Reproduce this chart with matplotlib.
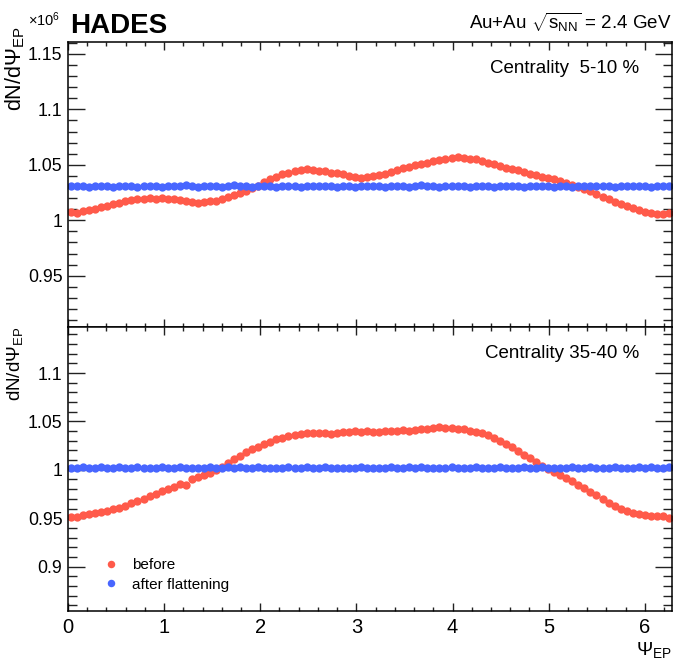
import numpy as np
import matplotlib
matplotlib.use("Agg")
import matplotlib.pyplot as plt
from matplotlib.ticker import MultipleLocator, FuncFormatter

plt.rcParams["font.family"] = ["Liberation Sans", "DejaVu Sans"]
plt.rcParams["mathtext.fontset"] = "custom"
plt.rcParams["mathtext.rm"] = "Liberation Sans"
plt.rcParams["mathtext.it"] = "Liberation Sans:italic"

# 100 bins over [0, 2pi); dN/dPsi in units of 10^6
N_BINS = 100
psi = (np.arange(N_BINS) + 0.5) * 2 * np.pi / N_BINS

before_5_10 = [
    1.0070, 1.0068, 1.0080, 1.0093, 1.0100, 1.0118, 1.0128, 1.0146, 1.0155, 1.0172,
    1.0180, 1.0192, 1.0196, 1.0203, 1.0196, 1.0199, 1.0190, 1.0194, 1.0183, 1.0178,
    1.0168, 1.0160, 1.0165, 1.0170, 1.0178, 1.0195, 1.0207, 1.0228, 1.0246, 1.0268,
    1.0290, 1.0312, 1.0342, 1.0368, 1.0392, 1.0415, 1.0428, 1.0440, 1.0452, 1.0458,
    1.0450, 1.0446, 1.0441, 1.0430, 1.0425, 1.0414, 1.0402, 1.0394, 1.0384, 1.0390,
    1.0396, 1.0408, 1.0420, 1.0438, 1.0452, 1.0470, 1.0484, 1.0498, 1.0506, 1.0520,
    1.0530, 1.0542, 1.0556, 1.0562, 1.0568, 1.0557, 1.0552, 1.0556, 1.0538, 1.0520,
    1.0505, 1.0490, 1.0472, 1.0458, 1.0450, 1.0438, 1.0420, 1.0408, 1.0394, 1.0380,
    1.0368, 1.0352, 1.0340, 1.0322, 1.0304, 1.0285, 1.0262, 1.0238, 1.0214, 1.0190,
    1.0168, 1.0150, 1.0128, 1.0112, 1.0094, 1.0078, 1.0062, 1.0058, 1.0056, 1.0066]

after_5_10 = [
    1.0310, 1.0306, 1.0309, 1.0303, 1.0311, 1.0305, 1.0308, 1.0302, 1.0310, 1.0307,
    1.0313, 1.0304, 1.0309, 1.0306, 1.0312, 1.0303, 1.0308, 1.0310, 1.0305, 1.0314,
    1.0307, 1.0302, 1.0309, 1.0306, 1.0311, 1.0304, 1.0308, 1.0315, 1.0305, 1.0309,
    1.0303, 1.0310, 1.0307, 1.0312, 1.0304, 1.0308, 1.0306, 1.0311, 1.0302, 1.0309,
    1.0307, 1.0313, 1.0305, 1.0308, 1.0304, 1.0310, 1.0306, 1.0301, 1.0309, 1.0312,
    1.0305, 1.0308, 1.0303, 1.0310, 1.0307, 1.0311, 1.0304, 1.0309, 1.0314, 1.0306,
    1.0308, 1.0302, 1.0310, 1.0305, 1.0312, 1.0307, 1.0303, 1.0309, 1.0306, 1.0311,
    1.0304, 1.0308, 1.0310, 1.0305, 1.0309, 1.0302, 1.0307, 1.0311, 1.0306, 1.0308,
    1.0304, 1.0310, 1.0307, 1.0303, 1.0309, 1.0312, 1.0305, 1.0308, 1.0306, 1.0310,
    1.0304, 1.0309, 1.0307, 1.0311, 1.0305, 1.0308, 1.0303, 1.0310, 1.0306, 1.0312]

before_35_40 = [
    0.9508, 0.9512, 0.9530, 0.9538, 0.9552, 0.9566, 0.9578, 0.9592, 0.9606, 0.9628,
    0.9652, 0.9674, 0.9702, 0.9730, 0.9752, 0.9778, 0.9806, 0.9826, 0.9852, 0.9842,
    0.9902, 0.9925, 0.9950, 0.9972, 0.9995, 1.0030, 1.0068, 1.0110, 1.0145, 1.0180,
    1.0212, 1.0240, 1.0268, 1.0290, 1.0314, 1.0330, 1.0348, 1.0360, 1.0372, 1.0380,
    1.0376, 1.0384, 1.0378, 1.0372, 1.0386, 1.0392, 1.0390, 1.0398, 1.0394, 1.0400,
    1.0396, 1.0392, 1.0402, 1.0398, 1.0406, 1.0410, 1.0404, 1.0414, 1.0418, 1.0422,
    1.0428, 1.0438, 1.0434, 1.0430, 1.0426, 1.0418, 1.0404, 1.0392, 1.0378, 1.0360,
    1.0334, 1.0300, 1.0266, 1.0234, 1.0198, 1.0158, 1.0118, 1.0078, 1.0042, 1.0008,
    0.9978, 0.9948, 0.9915, 0.9880, 0.9848, 0.9812, 0.9772, 0.9736, 0.9696, 0.9662,
    0.9630, 0.9600, 0.9578, 0.9556, 0.9540, 0.9530, 0.9522, 0.9518, 0.9522, 0.9506]

after_35_40 = [
    1.0024, 1.0020, 1.0026, 1.0018, 1.0023, 1.0027, 1.0019, 1.0022, 1.0025, 1.0016,
    1.0021, 1.0028, 1.0020, 1.0024, 1.0018, 1.0026, 1.0022, 1.0019, 1.0027, 1.0021,
    1.0017, 1.0024, 1.0020, 1.0026, 1.0023, 1.0018, 1.0025, 1.0021, 1.0028, 1.0019,
    1.0022, 1.0026, 1.0020, 1.0024, 1.0017, 1.0023, 1.0027, 1.0021, 1.0019, 1.0025,
    1.0022, 1.0018, 1.0026, 1.0020, 1.0024, 1.0021, 1.0015, 1.0023, 1.0027, 1.0020,
    1.0024, 1.0019, 1.0022, 1.0026, 1.0021, 1.0018, 1.0025, 1.0022, 1.0028, 1.0020,
    1.0023, 1.0017, 1.0021, 1.0026, 1.0019, 1.0024, 1.0022, 1.0027, 1.0020, 1.0023,
    1.0018, 1.0025, 1.0021, 1.0024, 1.0019, 1.0026, 1.0022, 1.0020, 1.0027, 1.0021,
    1.0024, 1.0018, 1.0023, 1.0026, 1.0020, 1.0022, 1.0025, 1.0019, 1.0024, 1.0021,
    1.0027, 1.0020, 1.0023, 1.0018, 1.0025, 1.0022, 1.0026, 1.0021, 1.0024, 1.0028]

RED, BLUE = "#ff5a4a", "#4866ff"

fig = plt.figure(figsize=(6.85, 6.65), dpi=100)
ax_top = fig.add_axes([0.0993, 0.5087, 0.8817, 0.4286])
ax_bot = fig.add_axes([0.0993, 0.0812, 0.8817, 0.4275])

panels = [(ax_top, before_5_10, after_5_10, (0.904, 1.161), "Centrality  5-10 %"),
          (ax_bot, before_35_40, after_35_40, (0.854, 1.148), "Centrality 35-40 %")]

for ax, bef, aft, ylim, label in panels:
    ax.plot(psi, bef, "o", color=RED, ms=6, mew=0, label="before")
    ax.plot(psi, aft, "o", color=BLUE, ms=6, mew=0, label="after flattening")
    ax.set_xlim(0, 2 * np.pi)
    ax.set_ylim(*ylim)
    ax.xaxis.set_major_locator(MultipleLocator(1))
    ax.xaxis.set_minor_locator(MultipleLocator(0.2))
    ax.yaxis.set_major_locator(MultipleLocator(0.05))
    ax.yaxis.set_minor_locator(MultipleLocator(0.01))
    ax.yaxis.set_major_formatter(FuncFormatter(lambda v, p: f"{v:g}"))
    ax.tick_params(axis="both", which="both", direction="in", top=True, right=True,
                   width=1.0, color="#222222")
    ax.tick_params(axis="y", which="major", length=12, labelsize=12.8, pad=4)
    ax.tick_params(axis="y", which="minor", length=6.5)
    ax.tick_params(axis="x", which="major", length=6, labelsize=14.5, pad=5)
    ax.tick_params(axis="x", which="minor", length=3)
    for s in ax.spines.values():
        s.set_linewidth(1.1)
    ax.text(0.945, 0.905, label, transform=ax.transAxes, ha="right", va="center",
            fontsize=13.5)

ax_top.tick_params(axis="x", labelbottom=False)

ax_bot.legend(loc="lower left", bbox_to_anchor=(0.035, 0.02), frameon=False,
              fontsize=11, handletextpad=0.9, labelspacing=0.35, markerscale=0.9,
              handlelength=1.0)

ax_bot.set_xlabel(r"$\Psi_{\mathrm{EP}}$", fontsize=14, loc="right", labelpad=2)

fig.text(0.022, 0.960, r"dN/d$\Psi_{\mathrm{EP}}$", rotation=90, ha="center",
         va="top", fontsize=15.5)
fig.text(0.022, 0.508, r"dN/d$\Psi_{\mathrm{EP}}$", rotation=90, ha="center",
         va="top", fontsize=13.5)

fig.text(0.088, 0.970, r"$\times10^{6}$", ha="right", va="center", fontsize=10.5)
fig.text(0.102, 0.950, "HADES", ha="left", va="baseline", fontsize=20,
         fontweight="bold")
fig.text(0.981, 0.956, r"Au+Au $\sqrt{\mathrm{s}_{\mathrm{NN}}}$ = 2.4 GeV",
         ha="right", va="baseline", fontsize=13.5)

fig.savefig("out.png", dpi=100)
